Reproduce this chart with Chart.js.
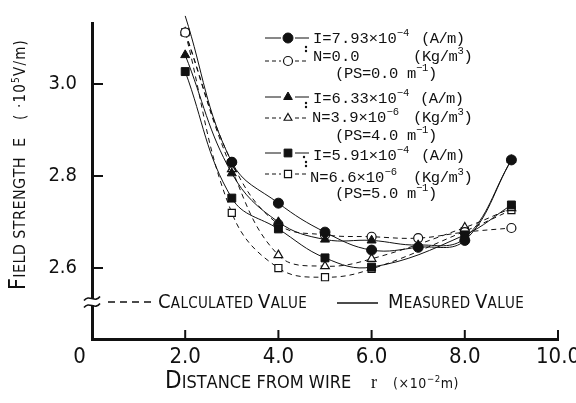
<!DOCTYPE html>
<html>
<head>
<meta charset="utf-8">
<script src="https://cdn.jsdelivr.net/npm/chart.js@4.4.1/dist/chart.umd.min.js"></script>
<style>
  html, body { margin: 0; padding: 0; background: #fff; }
  #wrap { width: 576px; height: 403px; }
</style>
</head>
<body>
<div id="wrap"><canvas id="c" width="576" height="403"></canvas></div>
<script>
// ---- data ----
const distance = [2, 3, 4, 5, 6, 7, 8, 9];               // r (×10^-2 m)
// measured (solid lines, filled markers)
const measuredI793 = [3.148, 2.830, 2.741, 2.678, 2.639, 2.645, 2.660, 2.835];
const measuredI633 = [3.063, 2.806, 2.700, 2.662, 2.660, 2.650, 2.665, 2.835];
const measuredI591 = [3.027, 2.752, 2.685, 2.622, 2.602, null, 2.672, 2.737];
// calculated (dashed lines, open markers)
const calcN00  = [3.112, 2.830, 2.695, 2.672, 2.668, 2.665, 2.678, 2.687];
const calcN39  = [3.112, 2.815, 2.628, 2.604, 2.620, null, 2.688, 2.730];
const calcN66  = [3.112, 2.720, 2.600, 2.580, 2.598, null, 2.680, 2.726];

const xTickValues = [0, 2, 4, 6, 8, 10];
const xTickLabels = ['0', '2.0', '4.0', '6.0', '8.0', '10.0'];
const yTickValues = [2.6, 2.8, 3.0];
const yTickLabels = ['2.6', '2.8', '3.0'];
const yMin = 2.4457, yMax = 3.1326;
const axisBreakAt = 2.526;

const INK = '#111';
const CONDENSED = "'DejaVu Sans Condensed', 'Liberation Sans Narrow', 'DejaVu Sans', sans-serif";
const MONO = "'Liberation Mono', 'DejaVu Sans Mono', monospace";

function series(values, style, filled, measured, radius) {
  return {
    data: distance.map((x, i) => ({ x: x, y: values[i] })),
    borderColor: INK,
    borderWidth: 1,
    borderDash: measured ? [] : [5, 4],
    pointStyle: style,
    pointRadius: radius,
    pointBackgroundColor: filled ? INK : '#fff',
    pointBorderColor: INK,
    pointBorderWidth: filled ? 1 : 1.2,
    tension: 0.4,
    spanGaps: true,
    clip: false,
    fill: false
  };
}

// ---- helpers for the hand-lettered texts ----
function richText(ctx, str, x, y, size, family, spacing) {
  // supports ^{...} superscripts
  const parts = str.split(/(\^\{[^}]*\})/);
  let cx = x;
  for (const p of parts) {
    if (!p) continue;
    const sup = p.startsWith('^{');
    const t = sup ? p.slice(2, -1) : p;
    ctx.font = (sup ? size * 0.68 : size) + 'px ' + family;
    for (const ch of t) {
      ctx.fillText(ch, cx, sup ? y - size * 0.42 : y);
      cx += ctx.measureText(ch).width + (spacing || 0);
    }
  }
  return cx - x;
}
function smallCaps(ctx, str, x, y, big, small, family, spacing) {
  let cx = x;
  for (const ch of str) {
    const isBig = ch !== ' ' && ch === ch.toUpperCase() && ch !== ch.toLowerCase();
    ctx.font = (isBig ? big : small) + 'px ' + family;
    const g = ch.toUpperCase();
    ctx.fillText(g, cx, y);
    cx += ctx.measureText(g).width + (spacing || 0);
  }
  return cx - x;
}
function marker(ctx, style, filled, x, y, r) {
  ctx.save();
  ctx.fillStyle = filled ? INK : '#fff';
  ctx.strokeStyle = INK;
  ctx.lineWidth = filled ? 1 : 1.2;
  ctx.setLineDash([]);
  ctx.beginPath();
  if (style === 'circle') {
    ctx.arc(x, y, r, 0, Math.PI * 2);
  } else if (style === 'triangle') {
    const w = r * Math.sqrt(3) / 2;
    ctx.moveTo(x, y - r);
    ctx.lineTo(x + w, y + r / 2);
    ctx.lineTo(x - w, y + r / 2);
    ctx.closePath();
  } else {
    const s = Math.SQRT1_2 * r;
    ctx.rect(x - s, y - s, 2 * s, 2 * s);
  }
  ctx.fill();
  ctx.stroke();
  ctx.restore();
}

const decorations = {
  id: 'decorations',
  afterDraw(chart) {
    const ctx = chart.ctx;
    const xs = chart.scales.x, ys = chart.scales.y;
    const { left, right, top, bottom } = chart.chartArea;
    ctx.save();
    ctx.strokeStyle = INK;
    ctx.fillStyle = INK;
    ctx.lineWidth = 2;
    ctx.setLineDash([]);
    // inward tick marks
    xs.ticks.forEach(t => {
      if (t.value === 0) return;
      const px = xs.getPixelForValue(t.value);
      ctx.beginPath(); ctx.moveTo(px, bottom); ctx.lineTo(px, bottom - 9); ctx.stroke();
    });
    ys.ticks.forEach(t => {
      const py = ys.getPixelForValue(t.value);
      ctx.beginPath(); ctx.moveTo(left, py); ctx.lineTo(left + 11, py); ctx.stroke();
    });
    // axis break on the y axis
    const by = ys.getPixelForValue(axisBreakAt);
    ctx.fillStyle = '#fff';
    ctx.fillRect(left - 4, by - 3, 8, 6);
    ctx.lineWidth = 1.6;
    for (const dy of [-3.5, 3.5]) {
      ctx.beginPath();
      ctx.moveTo(left - 8, by + dy + 2);
      ctx.bezierCurveTo(left - 3, by + dy - 5, left + 3, by + dy + 5, left + 8, by + dy - 2);
      ctx.stroke();
    }
    ctx.fillStyle = INK;

    // legend block (top right)
    const mx = 288;
    const rows = [
      { style: 'circle', filled: true, y: 38 },
      { style: 'circle', filled: false, y: 61 },
      { style: 'triangle', filled: true, y: 97 },
      { style: 'triangle', filled: false, y: 118 },
      { style: 'rect', filled: true, y: 153 },
      { style: 'rect', filled: false, y: 174 }
    ];
    rows.forEach(r => {
      ctx.lineWidth = 1;
      ctx.setLineDash(r.filled ? [] : [4, 3]);
      ctx.beginPath();
      ctx.moveTo(265, r.y); ctx.lineTo(mx - 7, r.y);
      ctx.moveTo(mx + 7, r.y); ctx.lineTo(309, r.y);
      ctx.stroke();
      ctx.setLineDash([]);
      marker(ctx, r.style, r.filled, mx, r.y, r.style === 'rect' ? (r.filled ? 5.5 : 5) : (r.filled ? 5 : 4.5));
    });
    // brace dots
    const dots = [[306, 47], [306, 51], [306, 103], [306, 107], [304, 157], [306, 162], [306, 166]];
    dots.forEach(d => { ctx.beginPath(); ctx.arc(d[0], d[1], 1.2, 0, Math.PI * 2); ctx.fill(); });

    const F = 15.5;
    ctx.textBaseline = 'alphabetic';
    ctx.textAlign = 'left';
    richText(ctx, 'I=7.93×10^{−4}', 313, 43, F, MONO);
    richText(ctx, '(A/m)', 421, 43, F, MONO, -0.6);
    richText(ctx, 'N=0.0', 313, 61, F, MONO);
    richText(ctx, '(Kg/m^{3})', 413, 61, F, MONO, -0.4);
    richText(ctx, '(PS=0.0 m^{−1})', 335, 78, F, MONO, -0.3);
    richText(ctx, 'I=6.33×10^{−4}', 313, 103, F, MONO);
    richText(ctx, '(A/m)', 420, 103, F, MONO, -0.6);
    richText(ctx, 'N=3.9×10^{−6}', 312, 122, F, MONO);
    richText(ctx, '(Kg/m^{3})', 413, 122, F, MONO, -0.4);
    richText(ctx, '(PS=4.0 m^{−1})', 335, 140, F, MONO, -0.3);
    richText(ctx, 'I=5.91×10^{−4}', 313, 160, F, MONO);
    richText(ctx, '(A/m)', 421, 160, F, MONO, -0.6);
    richText(ctx, 'N=6.6×10^{−6}', 310, 182, F, MONO);
    richText(ctx, '(Kg/m^{3})', 413, 182, F, MONO, -0.4);
    richText(ctx, '(PS=5.0 m^{−1})', 335, 198, F, MONO, -0.3);

    // line-style key near the bottom
    ctx.lineWidth = 1.4;
    ctx.setLineDash([7, 5]);
    ctx.beginPath(); ctx.moveTo(108, 302); ctx.lineTo(155, 302); ctx.stroke();
    ctx.setLineDash([]);
    ctx.beginPath(); ctx.moveTo(337, 303); ctx.lineTo(378, 303); ctx.stroke();
    smallCaps(ctx, 'Calculated Value', 158, 308, 20, 15, CONDENSED, 0.3);
    smallCaps(ctx, 'Measured Value', 388, 308, 20, 15, CONDENSED, 0.3);

    // x axis title
    smallCaps(ctx, 'Distance from wire', 165, 388, 24, 18, CONDENSED, 0);
    ctx.font = "18px 'Liberation Serif', serif";
    ctx.fillText('r', 371, 388);
    richText(ctx, '(×10^{−2}m)', 393, 388, 14, CONDENSED, 0.6);

    // y axis title (rotated)
    ctx.save();
    ctx.translate(25, 290);
    ctx.rotate(-Math.PI / 2);
    const cx = smallCaps(ctx, 'Field strength', 0, 0, 23, 16, CONDENSED, 0.4);
    ctx.font = "16px " + CONDENSED;
    ctx.fillText('E', cx + 10, 0);
    richText(ctx, '( ·10^{5}V/m)', 170, 0, 15, CONDENSED, 1.2);
    ctx.restore();

    ctx.restore();
  }
};

new Chart(document.getElementById('c'), {
  type: 'line',
  data: {
    datasets: [
      series(measuredI793, 'circle', true, true, 5),
      series(measuredI633, 'triangle', true, true, 5.2),
      series(measuredI591, 'rect', true, true, 5.6),
      series(calcN00, 'circle', false, false, 4.5),
      series(calcN39, 'triangle', false, false, 5),
      series(calcN66, 'rect', false, false, 5)
    ]
  },
  options: {
    responsive: false,
    animation: false,
    devicePixelRatio: 1,
    layout: { padding: { top: 23, right: 18, left: 0, bottom: 0 } },
    plugins: { legend: { display: false }, tooltip: { enabled: false } },
    scales: {
      x: {
        type: 'linear',
        min: 0, max: 10,
        grid: { display: false, drawTicks: false },
        border: { display: true, color: INK, width: 3 },
        afterBuildTicks: s => { s.ticks = xTickValues.map(v => ({ value: v })); },
        afterFit: s => { s.height = 64; s.paddingLeft = 0; s.paddingRight = 0; },
        ticks: {
          padding: 5,
          color: INK,
          font: { family: CONDENSED, size: 22 },
          callback: v => {
            const i = xTickValues.indexOf(v);
            const lab = i >= 0 ? xTickLabels[i] : '';
            return v === 0 ? lab + '    ' : lab;
          }
        }
      },
      y: {
        type: 'linear',
        min: yMin, max: yMax,
        grid: { display: false, drawTicks: false },
        border: { display: true, color: INK, width: 3 },
        afterBuildTicks: s => { s.ticks = yTickValues.map(v => ({ value: v })); },
        afterFit: s => { s.width = 92; s.paddingTop = 0; s.paddingBottom = 0; },
        ticks: {
          padding: 15,
          color: INK,
          font: { family: CONDENSED, size: 20 },
          callback: v => {
            const i = yTickValues.findIndex(t => Math.abs(t - v) < 1e-9);
            return i >= 0 ? yTickLabels[i] : '';
          }
        }
      }
    }
  },
  plugins: [decorations]
});
</script>
</body>
</html>
